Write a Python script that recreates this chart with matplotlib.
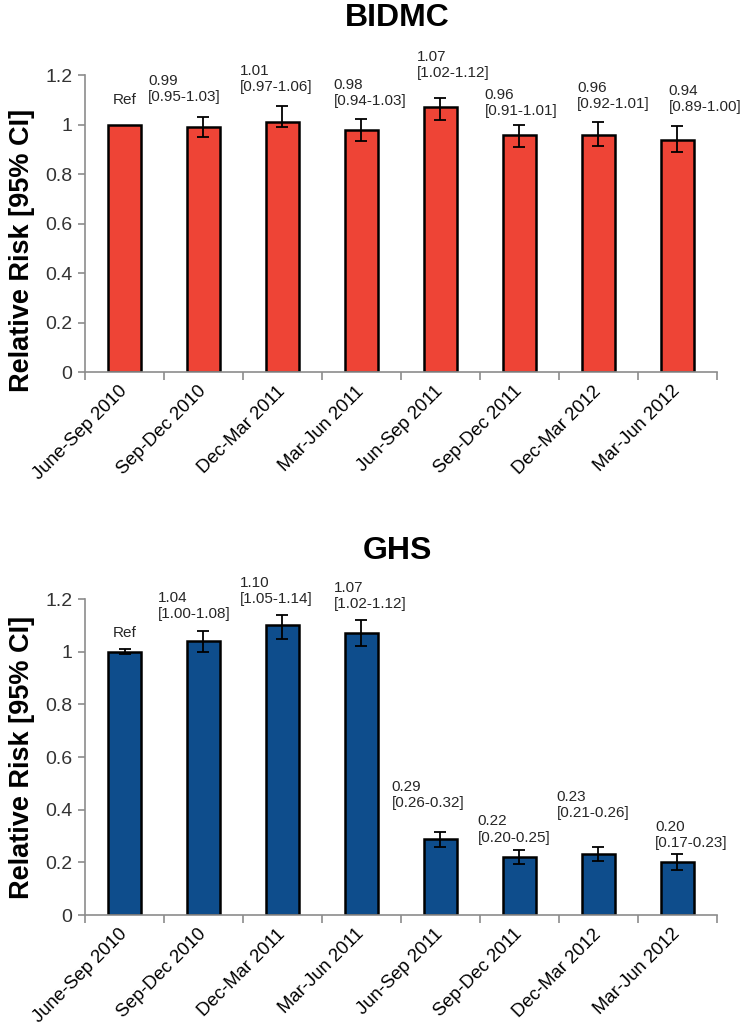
import matplotlib
matplotlib.use("Agg")
import matplotlib.pyplot as plt
import numpy as np

plt.rcParams['font.family'] = ['Liberation Sans', 'DejaVu Sans']

categories = ["June-Sep 2010", "Sep-Dec 2010", "Dec-Mar 2011", "Mar-Jun 2011",
              "Jun-Sep 2011", "Sep-Dec 2011", "Dec-Mar 2012", "Mar-Jun 2012"]

# BIDMC
bidmc_rr = [1.00, 0.99, 1.01, 0.98, 1.07, 0.96, 0.96, 0.94]
bidmc_lo = [1.00, 0.95, 0.99, 0.935, 1.02, 0.91, 0.915, 0.89]
bidmc_hi = [1.00, 1.03, 1.075, 1.025, 1.11, 1.00, 1.01, 0.995]
bidmc_labels = ["Ref", "0.99\n[0.95-1.03]", "1.01\n[0.97-1.06]", "0.98\n[0.94-1.03]",
                "1.07\n[1.02-1.12]", "0.96\n[0.91-1.01]", "0.96\n[0.92-1.01]",
                "0.94\n[0.89-1.00]"]

# GHS
ghs_rr = [1.00, 1.04, 1.10, 1.07, 0.29, 0.22, 0.23, 0.20]
ghs_lo = [0.99, 1.00, 1.05, 1.02, 0.26, 0.195, 0.205, 0.17]
ghs_hi = [1.01, 1.08, 1.14, 1.12, 0.315, 0.245, 0.26, 0.23]
ghs_labels = ["Ref", "1.04\n[1.00-1.08]", "1.10\n[1.05-1.14]", "1.07\n[1.02-1.12]",
              "0.29\n[0.26-0.32]", "0.22\n[0.20-0.25]", "0.23\n[0.21-0.26]",
              "0.20\n[0.17-0.23]"]

# label layout: x offset from category (left edge of text), y offset above error bar top
bidmc_lab_dx = [0.0, -0.70, -0.54, -0.35, -0.30, -0.44, -0.27, -0.11]
bidmc_lab_dy = [0.10, 0.113, 0.111, 0.104, 0.132, 0.089, 0.105, 0.108]
ghs_lab_dx = [0.0, -0.58, -0.54, -0.35, -0.62, -0.53, -0.53, -0.28]
ghs_lab_dy = [0.06, 0.093, 0.091, 0.092, 0.14, 0.08, 0.158, 0.075]

fig = plt.figure(figsize=(7.42, 10.31), dpi=100)
ax1 = fig.add_axes([0.1146, 0.639, 0.8514, 0.288])
ax2 = fig.add_axes([0.1146, 0.1125, 0.8514, 0.3065])

axis_gray = '#8c8c8c'

def draw(ax, rr, lo, hi, labels, dx, dy, color, show_first_err, ylab_y):
    x = np.arange(len(categories))
    ax.bar(x, rr, width=0.42, color=color, edgecolor='black', linewidth=1.8, zorder=2)
    rr_a = np.array(rr); lo_a = np.array(lo); hi_a = np.array(hi)
    idx = np.arange(len(rr)) if show_first_err else np.arange(1, len(rr))
    ax.errorbar(x[idx], rr_a[idx], yerr=[rr_a[idx] - lo_a[idx], hi_a[idx] - rr_a[idx]],
                fmt='none', ecolor='black', elinewidth=1.3, capsize=4, capthick=1.3, zorder=3)
    for i, lab in enumerate(labels):
        if i == 0:
            ax.text(x[i], hi[i] + dy[i], lab, ha='center', va='center', fontsize=11,
                    color='#262626')
        else:
            ax.text(x[i] + dx[i], hi[i] + dy[i], lab, ha='left', va='center', fontsize=11,
                    color='#262626', linespacing=1.2)
    ax.set_xlim(-0.5, len(categories) - 0.5)
    ax.set_ylim(0, 1.2)
    ax.set_yticks([0, 0.2, 0.4, 0.6, 0.8, 1.0, 1.2])
    ax.set_yticklabels(['0', '0.2', '0.4', '0.6', '0.8', '1', '1.2'], fontsize=14, color='#333333')
    ax.set_xticks(np.arange(-0.5, len(categories), 1.0))
    ax.set_xticklabels([])
    ax.set_xticks(x, minor=True)
    ax.set_xticklabels(categories, minor=True, rotation=45, ha='right', va='center',
                       rotation_mode='anchor', fontsize=13.3, color='black')
    ax.tick_params(axis='x', which='minor', length=0, pad=12)
    ax.tick_params(axis='x', which='major', length=6, color=axis_gray, width=1.2, direction='out')
    ax.tick_params(axis='y', length=5, color=axis_gray, width=1.2, direction='out', pad=4)
    for s in ['top', 'right']:
        ax.spines[s].set_visible(False)
    for s in ['left', 'bottom']:
        ax.spines[s].set_color(axis_gray)
        ax.spines[s].set_linewidth(1.2)
    ax.set_ylabel('Relative Risk [95% CI]', fontsize=19.5, fontweight='bold')
    ax.yaxis.set_label_coords(-0.079, ylab_y)

draw(ax1, bidmc_rr, bidmc_lo, bidmc_hi, bidmc_labels, bidmc_lab_dx, bidmc_lab_dy,
     '#ee4436', False, 0.41)
draw(ax2, ghs_rr, ghs_lo, ghs_hi, ghs_labels, ghs_lab_dx, ghs_lab_dy,
     '#0e4d8c', True, 0.5)

fig.text(0.536, 1 - 18 / 1031, 'BIDMC', ha='center', va='center', fontsize=23, fontweight='bold')
fig.text(0.536, 1 - 551 / 1031, 'GHS', ha='center', va='center', fontsize=23, fontweight='bold')

fig.savefig('out.png', dpi=100)
